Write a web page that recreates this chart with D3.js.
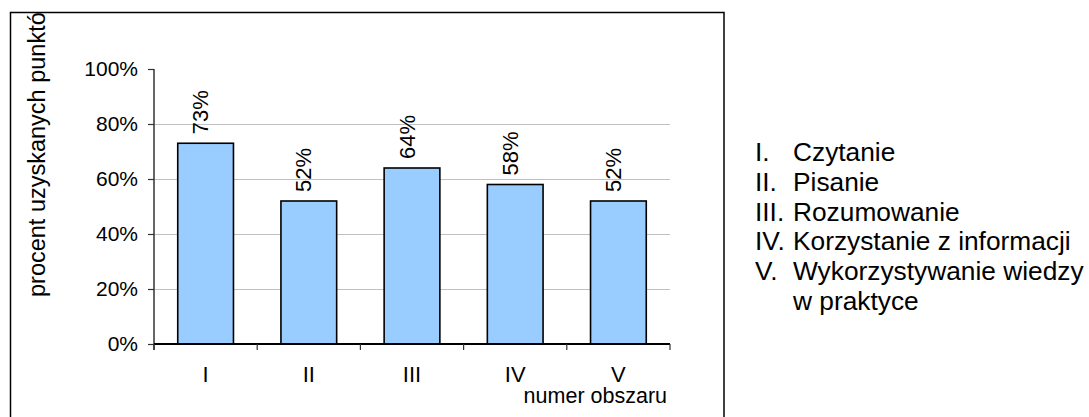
<!DOCTYPE html>
<html>
<head>
<meta charset="utf-8">
<script src="https://cdn.jsdelivr.net/npm/d3@7"></script>
<style>
  html, body { margin: 0; padding: 0; background: #fff; }
  svg { display: block; font-family: "Liberation Sans", Arial, sans-serif; }
</style>
</head>
<body>
<svg id="chart" width="1089" height="417"></svg>
<script>
const categories = ["I", "II", "III", "IV", "V"];
const values = [0.73, 0.52, 0.64, 0.58, 0.52];
const valueLabels = ["73%", "52%", "64%", "58%", "52%"];
const yTicks = [0, 0.2, 0.4, 0.6, 0.8, 1.0];
const gridTicks = [0.2, 0.4, 0.6, 0.8];
const yTitle = "procent uzyskanych punktów";
const xTitle = "numer obszaru";
const legendNums = ["I.", "II.", "III.", "IV.", "V.", ""];
const legendTexts = ["Czytanie", "Pisanie", "Rozumowanie", "Korzystanie z informacji", "Wykorzystywanie wiedzy", "w praktyce"];

const svg = d3.select("#chart");

// outer frame
const frame = {x: 10.5, y: 12.5, w: 713.5, h: 420};
svg.append("defs").append("clipPath").attr("id", "frameClip")
  .append("rect").attr("x", frame.x).attr("y", frame.y).attr("width", frame.w).attr("height", frame.h);
svg.append("rect").attr("x", frame.x).attr("y", frame.y).attr("width", frame.w).attr("height", frame.h)
  .attr("fill", "#fff").attr("stroke", "#000").attr("stroke-width", 1.5);

const plot = {left: 154, right: 670, top: 69, bottom: 344};

const x = d3.scaleBand().domain(categories).range([plot.left, plot.right])
  .paddingInner(0.46).paddingOuter(0.23);
const y = d3.scaleLinear().domain([0, 1]).range([plot.bottom, plot.top]);

// gridlines
svg.append("g").selectAll("line").data(gridTicks).join("line")
  .attr("x1", plot.left).attr("x2", plot.right)
  .attr("y1", d => Math.round(y(d)) + 0.5).attr("y2", d => Math.round(y(d)) + 0.5)
  .attr("stroke", "#c0c0c0").attr("stroke-width", 1);

// bars
svg.append("g").selectAll("rect").data(categories).join("rect")
  .attr("x", d => x(d))
  .attr("y", (d, i) => y(values[i]))
  .attr("width", x.bandwidth())
  .attr("height", (d, i) => plot.bottom - y(values[i]))
  .attr("fill", "#99ccff").attr("stroke", "#000").attr("stroke-width", 1.6);

// value labels (rotated)
svg.append("g").selectAll("text").data(categories).join("text")
  .attr("transform", (d, i) => `translate(${x(d) + x.bandwidth() / 2 + 2.5},${y(values[i]) - 9}) rotate(-90)`)
  .attr("font-size", 22).attr("fill", "#000")
  .text((d, i) => valueLabels[i]);

// y axis
const yAxis = d3.axisLeft(y).tickValues(yTicks).tickFormat(d3.format(".0%")).tickSize(6).tickPadding(10);
const gy = svg.append("g").attr("transform", `translate(${plot.left},0)`).call(yAxis);
gy.select(".domain").remove();
gy.selectAll(".tick line").attr("stroke", "#333").attr("stroke-width", 1.2);
gy.selectAll(".tick text").attr("font-size", 21).attr("fill", "#000")
  .attr("font-family", "'Liberation Sans', Arial, sans-serif").attr("dy", "0.3em");
svg.append("line").attr("x1", plot.left).attr("x2", plot.left)
  .attr("y1", plot.top).attr("y2", plot.bottom + 6)
  .attr("stroke", "#333").attr("stroke-width", 1.5);

// x axis
const step = x.step();
const boundaries = d3.range(categories.length + 1).map(i => plot.left + i * step);
svg.append("line").attr("x1", plot.left).attr("x2", plot.right)
  .attr("y1", plot.bottom).attr("y2", plot.bottom)
  .attr("stroke", "#000").attr("stroke-width", 1.8);
svg.append("g").selectAll("line").data(boundaries).join("line")
  .attr("x1", d => d).attr("x2", d => d)
  .attr("y1", plot.bottom).attr("y2", plot.bottom + 6)
  .attr("stroke", "#333").attr("stroke-width", 1.2);
svg.append("g").selectAll("text").data(categories).join("text")
  .attr("x", d => x(d) + x.bandwidth() / 2)
  .attr("y", 382)
  .attr("text-anchor", "middle").attr("font-size", 22).attr("fill", "#000")
  .text(d => d);

// x title
svg.append("text").attr("x", 667).attr("y", 403).attr("text-anchor", "end")
  .attr("font-size", 21.5).attr("fill", "#000").text(xTitle);

// y title (clipped by frame, as in the reference)
svg.append("g").attr("clip-path", "url(#frameClip)")
  .append("text")
  .attr("transform", "translate(45,297) rotate(-90)")
  .attr("font-size", 23.5).attr("fill", "#000").text(yTitle);

// legend
const legend = svg.append("g");
legendTexts.forEach((t, i) => {
  const by = 161 + i * 29.8;
  legend.append("text").attr("x", 755).attr("y", by).attr("font-size", 26.3).attr("fill", "#000").text(legendNums[i]);
  legend.append("text").attr("x", 793).attr("y", by).attr("font-size", 26.3).attr("fill", "#000").text(t);
});
</script>
</body>
</html>
